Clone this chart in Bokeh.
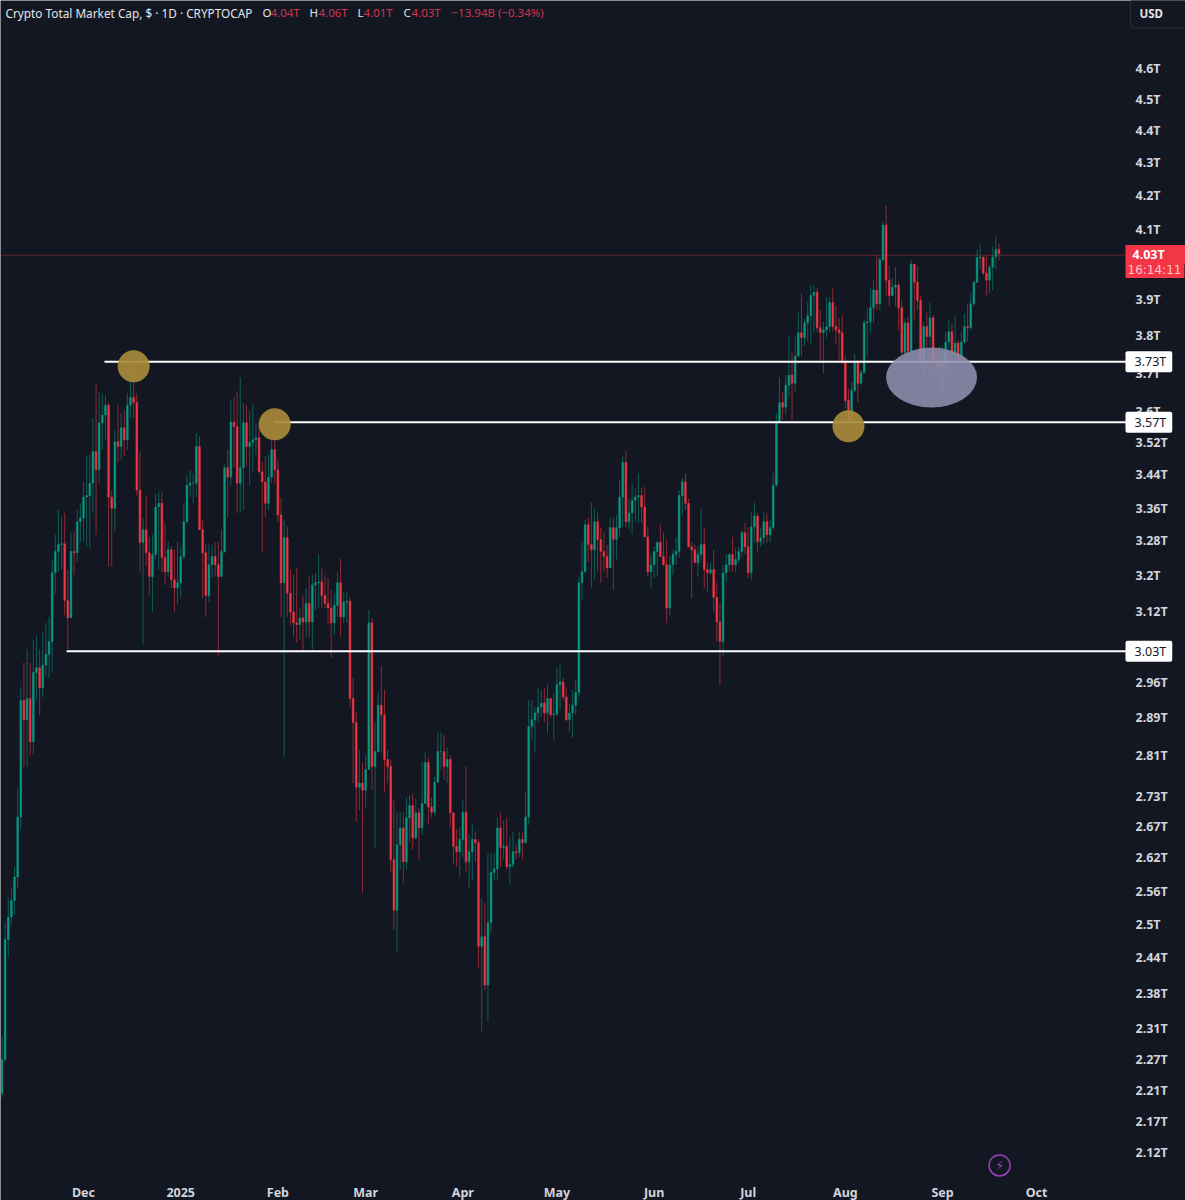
from bokeh.embed import file_html
from bokeh.models import ColumnDataSource, FixedTicker, Label, Range1d
from bokeh.plotting import figure
from bokeh.resources import INLINE

first_open = 2.211
closes = [
2.265,2.468,2.508,2.538,2.581,2.694,2.928,2.888,2.932,2.843,
2.987,2.997,2.954,3.003,3.026,3.054,3.208,3.257,3.273,3.275,
3.145,3.106,3.257,3.254,3.327,3.336,3.386,3.390,3.420,3.498,
3.453,3.571,3.591,3.616,3.386,3.359,3.523,3.511,3.558,3.528,
3.616,3.636,3.623,3.403,3.278,3.308,3.254,3.199,3.250,3.362,
3.371,3.243,3.210,3.261,3.192,3.173,3.185,3.245,3.327,3.415,
3.420,3.420,3.511,3.308,3.254,3.156,3.226,3.245,3.226,3.199,
3.257,3.458,3.435,3.573,3.561,3.420,3.458,3.571,3.511,3.521,
3.528,3.533,3.448,3.423,3.371,3.435,3.503,3.453,3.343,3.185,
3.289,3.161,3.119,3.095,3.091,3.106,3.097,3.138,3.097,3.180,
3.185,3.187,3.156,3.138,3.128,3.095,3.134,3.185,3.108,3.141,
3.143,2.932,2.882,2.752,2.760,2.746,2.787,3.095,2.793,2.823,
2.918,2.898,2.807,2.793,2.613,2.520,2.641,2.673,2.609,2.692,
2.716,2.654,2.702,2.673,2.720,2.801,2.713,2.703,2.762,2.823,
2.823,2.793,2.807,2.702,2.638,2.628,2.651,2.703,2.609,2.628,
2.651,2.645,2.456,2.473,2.389,2.498,2.589,2.596,2.673,2.636,
2.638,2.600,2.604,2.628,2.626,2.651,2.645,2.694,2.874,2.888,
2.902,2.914,2.922,2.902,2.932,2.898,2.900,2.961,2.967,2.935,
2.888,2.902,2.918,2.945,3.185,3.210,3.320,3.273,3.261,3.327,
3.285,3.257,3.245,3.219,3.313,3.285,3.313,3.386,3.471,3.327,
3.348,3.378,3.386,3.390,3.362,3.291,3.210,3.226,3.257,3.278,
3.245,3.226,3.128,3.226,3.250,3.257,3.390,3.423,3.371,3.268,
3.261,3.231,3.250,3.273,3.215,3.208,3.215,3.152,3.097,3.054,
3.208,3.226,3.250,3.226,3.238,3.257,3.301,3.268,3.208,3.315,
3.341,3.280,3.289,3.327,3.296,3.313,3.415,3.573,3.623,3.611,
3.668,3.695,3.673,3.745,3.808,3.795,3.835,3.855,3.911,3.920,
3.822,3.808,3.816,3.825,3.891,3.825,3.816,3.808,3.728,3.628,
3.573,3.655,3.728,3.673,3.701,3.835,3.838,3.877,3.926,3.888,
4.012,4.113,3.954,3.911,3.934,3.940,3.877,3.755,3.835,3.758,
4.000,3.948,3.897,3.728,3.825,3.798,3.849,3.734,3.728,3.717,
3.723,3.783,3.811,3.755,3.780,3.745,3.783,3.825,3.822,3.888,
3.948,4.018,4.020,3.974,3.954,3.991,4.020,4.042,4.030,
]
highs = [
2.303,2.498,2.544,2.562,2.600,2.750,2.956,3.008,3.037,3.008,
3.058,3.067,3.037,3.076,3.095,3.108,3.238,3.296,3.355,3.338,
3.348,3.215,3.301,3.303,3.355,3.371,3.423,3.486,3.490,3.583,
3.671,3.650,3.647,3.642,3.623,3.403,3.553,3.616,3.596,3.603,
3.647,3.728,3.731,3.647,3.498,3.336,3.390,3.291,3.296,3.395,
3.398,3.398,3.324,3.280,3.270,3.261,3.280,3.268,3.371,3.440,
3.453,3.445,3.545,3.536,3.331,3.273,3.273,3.273,3.278,3.280,
3.308,3.466,3.503,3.628,3.636,3.650,3.689,3.621,3.616,3.601,
3.621,3.571,3.571,3.473,3.486,3.490,3.528,3.573,3.478,3.383,
3.331,3.315,3.215,3.203,3.219,3.128,3.156,3.173,3.199,3.203,
3.208,3.250,3.219,3.203,3.196,3.168,3.161,3.208,3.240,3.163,
3.163,3.152,2.976,2.904,2.827,2.801,2.817,3.123,3.106,2.882,
2.943,3.000,2.950,2.827,2.807,2.726,2.703,2.703,2.703,2.732,
2.736,2.740,2.730,2.711,2.803,2.821,2.811,2.732,2.773,2.861,
2.861,2.857,2.831,2.815,2.702,2.670,2.673,2.726,2.793,2.660,
2.679,2.666,2.651,2.541,2.533,2.623,2.625,2.625,2.694,2.702,
2.688,2.692,2.656,2.666,2.641,2.666,2.664,2.742,2.928,2.928,
2.914,2.956,2.950,2.954,2.961,2.932,2.943,2.997,3.003,2.976,
2.956,2.922,2.950,2.971,3.199,3.278,3.331,3.336,3.373,3.359,
3.348,3.313,3.303,3.273,3.338,3.336,3.343,3.428,3.486,3.500,
3.383,3.420,3.408,3.445,3.408,3.411,3.315,3.250,3.268,3.280,
3.320,3.301,3.285,3.245,3.261,3.289,3.403,3.433,3.445,3.383,
3.280,3.273,3.268,3.359,3.313,3.231,3.231,3.261,3.185,3.138,
3.226,3.250,3.254,3.291,3.266,3.268,3.308,3.324,3.313,3.351,
3.373,3.348,3.313,3.351,3.348,3.331,3.445,3.596,3.689,3.650,
3.694,3.800,3.755,3.797,3.863,3.917,3.846,3.891,3.940,3.940,
3.931,3.870,3.838,3.905,3.905,3.931,3.883,3.849,3.857,3.747,
3.660,3.676,3.750,3.734,3.709,3.846,3.877,3.931,3.954,4.025,
4.020,4.122,4.171,3.994,3.960,3.991,3.948,3.897,3.846,3.852,
4.012,3.997,3.994,3.911,3.838,3.863,3.891,3.857,3.763,3.772,
3.772,3.811,3.843,3.835,3.857,3.788,3.811,3.860,3.888,3.917,
3.954,4.042,4.057,4.020,4.025,3.997,4.051,4.079,4.060,
]
lows = [
2.205,2.262,2.438,2.494,2.512,2.560,2.670,2.791,2.793,2.813,
2.817,2.928,2.898,2.935,2.978,2.976,2.987,3.161,3.210,3.215,
3.112,3.037,3.106,3.203,3.233,3.278,3.280,3.268,3.266,3.348,
3.296,3.420,3.503,3.528,3.222,3.222,3.303,3.471,3.478,3.486,
3.503,3.583,3.583,3.390,3.208,3.047,3.222,3.156,3.119,3.238,
3.215,3.208,3.180,3.199,3.173,3.119,3.138,3.152,3.238,3.324,
3.386,3.371,3.386,3.308,3.150,3.108,3.141,3.196,3.199,3.022,
3.199,3.254,3.338,3.415,3.458,3.348,3.348,3.355,3.461,3.415,
3.445,3.490,3.445,3.254,3.338,3.355,3.420,3.420,3.327,3.108,
2.813,3.108,3.091,3.065,3.052,3.058,3.032,3.063,3.063,3.037,
3.123,3.128,3.128,3.128,3.091,3.019,3.069,3.108,3.065,3.095,
3.095,2.914,2.760,2.685,2.707,2.551,2.713,2.787,2.746,2.636,
2.821,2.821,2.742,2.760,2.589,2.485,2.445,2.594,2.570,2.594,
2.645,2.632,2.651,2.613,2.660,2.720,2.679,2.694,2.698,2.760,
2.787,2.766,2.760,2.675,2.604,2.600,2.581,2.617,2.590,2.560,
2.575,2.609,2.419,2.311,2.380,2.327,2.480,2.575,2.575,2.600,
2.613,2.594,2.566,2.598,2.613,2.617,2.613,2.645,2.679,2.847,
2.821,2.882,2.894,2.884,2.861,2.892,2.847,2.896,2.908,2.928,
2.884,2.864,2.851,2.898,2.935,3.145,3.208,3.233,3.173,3.192,
3.210,3.185,3.210,3.196,3.219,3.168,3.238,3.291,3.315,3.313,
3.308,3.296,3.327,3.324,3.324,3.291,3.199,3.173,3.196,3.199,
3.245,3.226,3.095,3.112,3.203,3.226,3.243,3.343,3.355,3.266,
3.150,3.231,3.199,3.238,3.173,3.165,3.203,3.119,3.054,2.961,
3.022,3.185,3.210,3.210,3.208,3.231,3.243,3.250,3.196,3.192,
3.278,3.257,3.268,3.273,3.278,3.278,3.308,3.411,3.571,3.578,
3.591,3.636,3.578,3.650,3.745,3.745,3.772,3.785,3.777,3.811,
3.811,3.734,3.699,3.795,3.808,3.811,3.777,3.728,3.723,3.608,
3.571,3.553,3.650,3.623,3.668,3.701,3.745,3.808,3.835,3.870,
3.870,4.007,3.908,3.880,3.908,3.880,3.816,3.745,3.728,3.745,
3.750,3.841,3.870,3.723,3.689,3.763,3.772,3.673,3.709,3.701,
3.642,3.689,3.745,3.750,3.750,3.728,3.743,3.777,3.783,3.816,
3.880,3.948,3.985,3.968,3.911,3.917,3.926,3.985,4.010,
]
first_day = -26  # days relative to 1 Dec 2024
price_ticks = [4.6,4.5,4.4,4.3,4.2,4.1,3.9,3.8,3.7,3.6,3.520,3.441,3.359,3.282,3.201,3.121,
               3.033,2.965,2.892,2.815,2.734,2.675,2.617,2.555,2.494,2.436,2.375,2.316,2.265,2.215,2.167,2.120]
price_tick_labels = ["4.6T","4.5T","4.4T","4.3T","4.2T","4.1T","3.9T","3.8T","3.7T","3.6T","3.52T","3.44T",
                     "3.36T","3.28T","3.2T","3.12T","3.03T","2.96T","2.89T","2.81T","2.73T","2.67T","2.62T",
                     "2.56T","2.5T","2.44T","2.38T","2.31T","2.27T","2.21T","2.17T","2.12T"]
month_ticks = [0,31,62,90,121,151,182,212,243,274,304]
month_labels = ["Dec","2025","Feb","Mar","Apr","May","Jun","Jul","Aug","Sep","Oct"]
level_prices = [3.73,3.572,3.033]
level_starts = [6.7,61,-5.4]
level_labels = ["3.73T","3.57T","3.03T"]
last_price = 4.025
circle_days = [16,61,244]
circle_prices = [3.718,3.567,3.562]
zone_day, zone_price = 270.5, 3.688

assert len(closes) == len(highs) == len(lows) == 319
BG = "#131722"; UP = "#089981"; DOWN = "#F23645"; TXT = "#D1D4DC"
FONT = "Noto Sans"
AXIS_DAY = 333.65   # right edge of the candle pane
AXIS_PRICE = 2.0806  # bottom edge of the candle pane
days = [first_day + i for i in range(len(closes))]
opens = [first_open] + closes[:-1]
colors = [UP if c >= o else DOWN for o, c in zip(opens, closes)]
src = ColumnDataSource(dict(day=days, o=opens, c=closes, h=highs, l=lows, color=colors))

p = figure(frame_width=1185, frame_height=1200, output_backend="svg", toolbar_location=None,
           y_axis_type="log", y_axis_location="right", x_axis_location="below",
           x_range=Range1d(-26.475, 351.5), y_range=Range1d(2.048, 4.829),
           background_fill_color=BG, border_fill_color=BG, outline_line_color=None,
           min_border=0)
p.outline_line_alpha = 0
p.grid.visible = False

yax, xax = p.yaxis[0], p.xaxis[0]
yax.fixed_location = AXIS_DAY
xax.fixed_location = AXIS_PRICE
yax.ticker = FixedTicker(ticks=price_ticks)
yax.major_label_overrides = dict(zip(price_ticks, price_tick_labels))
yax.major_label_standoff = 0
xax.ticker = FixedTicker(ticks=month_ticks)
xax.major_label_overrides = dict(zip(month_ticks, month_labels))
xax.major_label_standoff = 0
for ax in (xax, yax):
    ax.axis_line_color = None
    ax.major_tick_line_color = None
    ax.minor_tick_line_color = None
    ax.major_label_text_color = TXT
    ax.major_label_text_font = FONT
    ax.major_label_text_font_size = "12.5px"
    ax.major_label_text_font_style = "bold"

# last price dotted line
last_line = p.segment(x0=[-26.475], x1=[AXIS_DAY], y0=[last_price], y1=[last_price],
                      line_color=DOWN, line_alpha=0.7, line_width=1)
last_line.glyph.line_dash = [1, 1]

# candles
p.segment("day", "l", "day", "h", source=src, line_color="color", line_width=1, line_alpha=0.55)
p.vbar("day", 0.55, "o", "c", source=src, fill_color="color", line_color="color", line_width=0.5)

# drawn levels
p.segment(x0=level_starts, x1=[AXIS_DAY] * 3, y0=level_prices, y1=level_prices,
          line_color="#FFFFFF", line_width=2)

# highlights
p.scatter(circle_days, circle_prices, size=32, marker="circle", fill_color="#A98A3A",
          fill_alpha=0.92, line_color=None)
p.ellipse([zone_day], [zone_price], width=91, height=60, width_units="screen", height_units="screen",
          fill_color="#908EAF", fill_alpha=0.88, line_color=None)


def sy(page_y):  # screen y counted up from the frame bottom
    return 1200 - page_y


def text(s, x, y, color=TXT, size="12px", style="normal", font=FONT, **kw):
    lab = Label(x=x, y=sy(y), x_units="screen", y_units="screen", text=s, text_color=color,
                text_font=font, text_font_size=size, text_font_style=style,
                text_baseline="middle", **kw)
    p.add_layout(lab)
    return lab


# header
RED = "#D0354B"
WHITE = "#E3E5EA"
text("Crypto Total Market Cap, $ · 1D · CRYPTOCAP", 5, 12, color=WHITE, size="11.8px")
for s, x, c in [("O", 262, WHITE), ("4.04T", 270, RED), ("H", 309, WHITE), ("4.06T", 318, RED),
                ("L", 357, WHITE), ("4.01T", 363, RED), ("C", 403, WHITE), ("4.03T", 411, RED),
                ("−13.94B (−0.34%)", 451, RED)]:
    text(s, x, 12, color=c, size="11.5px")

# USD box
text("USD", 1130, 13, color=WHITE, size="11.5px", style="bold",
     background_fill_color=BG, border_line_color="#2A2E39", padding=(9, 26, 7, 7), border_radius=4)

# level tags
for price, s in zip(level_prices, level_labels):
    p.add_layout(Label(x=1125, y=price, x_units="screen", y_units="data", text=s, text_color="#131722",
                       text_font=FONT, text_font_size="12.5px", text_baseline="middle",
                       background_fill_color="#FFFFFF", border_radius=2, padding=(9, 6, 2, 2)))

# last price tag
text("4.03T", 1125, 254, color="#FFFFFF", style="bold", size="12.5px", background_fill_color="#F23645",
     padding=(7, 21, 1, 1))
text("16:14:11", 1125, 269.5, color="#FFC9CF", size="12px", font="DejaVu Sans", background_fill_color="#F23645",
     padding=(2, 3, 1, 1))

# bolt icon
p.add_layout(Label(x=999, y=sy(1165), x_units="screen", y_units="screen", text="⚡", text_color="#9C3FB5",
                   text_font="DejaVu Sans", text_font_size="13px", text_align="center", text_baseline="middle"))
p.scatter([292.2], [2.10], size=21, marker="circle", fill_color=None, line_color="#9C3FB5", line_width=1.5)

open("out.html", "w").write(file_html(p, INLINE))
